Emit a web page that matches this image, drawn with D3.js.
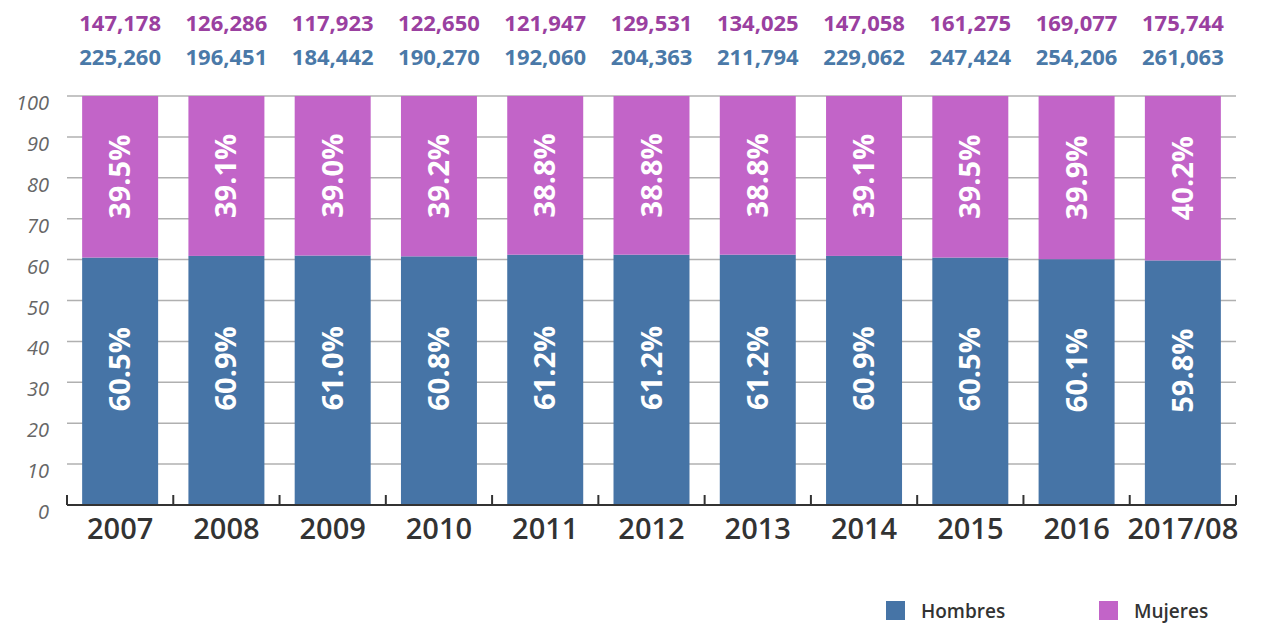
<!DOCTYPE html>
<html>
<head>
<meta charset="utf-8">
<script src="https://cdn.jsdelivr.net/npm/d3@7"></script>
<style>
body { margin: 0; background: #fff; }
</style>
</head>
<body>
<div id="canvas"></div>
<script>
// ----------------------------------------------------------
// DATA -----------------------------------------------------
// ----------------------------------------------------------
var years = ["2007", "2008", "2009", "2010", "2011", "2012", "2013", "2014", "2015", "2016", "2017/08"];
var hombres_pct = [60.5, 60.9, 61.0, 60.8, 61.2, 61.2, 61.2, 60.9, 60.5, 60.1, 59.8];
var mujeres_pct = [39.5, 39.1, 39.0, 39.2, 38.8, 38.8, 38.8, 39.1, 39.5, 39.9, 40.2];
var hombres_total = ["225,260", "196,451", "184,442", "190,270", "192,060", "204,363", "211,794", "229,062", "247,424", "254,206", "261,063"];
var mujeres_total = ["147,178", "126,286", "117,923", "122,650", "121,947", "129,531", "134,025", "147,058", "161,275", "169,077", "175,744"];
var y_ticks = [0, 10, 20, 30, 40, 50, 60, 70, 80, 90, 100];
var series_names = ["Hombres", "Mujeres"];

var color_hombres = "#4674a6";
var color_mujeres = "#c264c8";
var color_hombres_text = "#4a79a8";
var color_mujeres_text = "#9a40a0";
var font = "'Open Sans', sans-serif";

// ----------------------------------------------------------
// STRUCTURE ------------------------------------------------
// ----------------------------------------------------------
var W = 1271, H = 624;
var svg = d3.select("#canvas").append("svg")
  .attr("width", W)
  .attr("height", H)
  .style("font-family", font);

var xScale = d3.scaleBand()
  .domain(years)
  .range([67, 1236])
  .paddingInner(0.285)
  .paddingOuter(0.1425);

var yScale = d3.scaleLinear()
  .domain([0, 100])
  .range([505, 96]);

// grid lines
svg.append("g")
  .selectAll("line")
  .data(y_ticks.filter(d => d > 0))
  .enter()
  .append("line")
  .attr("x1", 67)
  .attr("x2", 1236)
  .attr("y1", d => yScale(d))
  .attr("y2", d => yScale(d))
  .attr("stroke", "#b0b0b0")
  .attr("stroke-width", 1.5);

// y tick labels
svg.append("g")
  .selectAll("text")
  .data(y_ticks)
  .enter()
  .append("text")
  .attr("x", 49)
  .attr("y", d => yScale(d) + 14)
  .attr("text-anchor", "end")
  .attr("font-size", 20)
  .attr("font-style", "italic")
  .attr("fill", "#666")
  .text(d => d);

// bars
var bar = svg.append("g")
  .selectAll("g")
  .data(years.map((y, i) => ({ year: y, h: hombres_pct[i], m: mujeres_pct[i], ht: hombres_total[i], mt: mujeres_total[i] })))
  .enter()
  .append("g");

bar.append("rect")
  .attr("x", d => xScale(d.year))
  .attr("width", xScale.bandwidth())
  .attr("y", d => yScale(d.h))
  .attr("height", d => yScale(0) - yScale(d.h))
  .attr("fill", color_hombres);

bar.append("rect")
  .attr("x", d => xScale(d.year))
  .attr("width", xScale.bandwidth())
  .attr("y", d => yScale(d.h + d.m))
  .attr("height", d => yScale(d.h) - yScale(d.h + d.m))
  .attr("fill", color_mujeres);

// percent labels, rotated
var cx = d => xScale(d.year) + xScale.bandwidth() / 2;

bar.append("text")
  .attr("transform", d => `translate(${cx(d) + 10}, ${(yScale(0) + yScale(d.h)) / 2 - 12}) rotate(-90)`)
  .attr("text-anchor", "middle")
  .attr("font-size", 29)
  .attr("font-weight", 700)
  .attr("fill", "#fff")
  .text(d => d.h.toFixed(1) + "%");

bar.append("text")
  .attr("transform", d => `translate(${cx(d) + 10}, ${(yScale(d.h) + yScale(d.h + d.m)) / 2}) rotate(-90)`)
  .attr("text-anchor", "middle")
  .attr("font-size", 29)
  .attr("font-weight", 700)
  .attr("fill", "#fff")
  .text(d => d.m.toFixed(1) + "%");

// totals on top
bar.append("text")
  .attr("x", cx)
  .attr("y", 31)
  .attr("text-anchor", "middle")
  .attr("font-size", 22)
  .attr("font-weight", 700)
  .attr("fill", color_mujeres_text)
  .text(d => d.mt);

bar.append("text")
  .attr("x", cx)
  .attr("y", 65)
  .attr("text-anchor", "middle")
  .attr("font-size", 22)
  .attr("font-weight", 700)
  .attr("fill", color_hombres_text)
  .text(d => d.ht);

// x axis line with ticks between categories
var step = xScale.step();
var x_axis = svg.append("g");
x_axis.append("line")
  .attr("x1", 67)
  .attr("x2", 1236)
  .attr("y1", 505)
  .attr("y2", 505)
  .attr("stroke", "#333")
  .attr("stroke-width", 2);

x_axis.selectAll("line.tick")
  .data(d3.range(years.length + 1))
  .enter()
  .append("line")
  .attr("class", "tick")
  .attr("x1", i => 67 + i * step)
  .attr("x2", i => 67 + i * step)
  .attr("y1", 495)
  .attr("y2", 505)
  .attr("stroke", "#333")
  .attr("stroke-width", 2);

x_axis.selectAll("text")
  .data(years)
  .enter()
  .append("text")
  .attr("x", d => xScale(d) + xScale.bandwidth() / 2)
  .attr("y", 539)
  .attr("text-anchor", "middle")
  .attr("font-size", 29)
  .attr("font-weight", 600)
  .attr("fill", "#333")
  .text(d => d);

// legend
var legend = svg.append("g")
  .selectAll("g")
  .data(series_names)
  .enter()
  .append("g")
  .attr("transform", (d, i) => `translate(${886 + i * 213}, 601)`);

legend.append("rect")
  .attr("width", 19)
  .attr("height", 19)
  .attr("fill", (d, i) => i === 0 ? color_hombres : color_mujeres);

legend.append("text")
  .attr("x", 35)
  .attr("y", 17)
  .attr("font-size", 19)
  .attr("font-weight", 600)
  .attr("fill", "#333")
  .text(d => d);
</script>
</body>
</html>
